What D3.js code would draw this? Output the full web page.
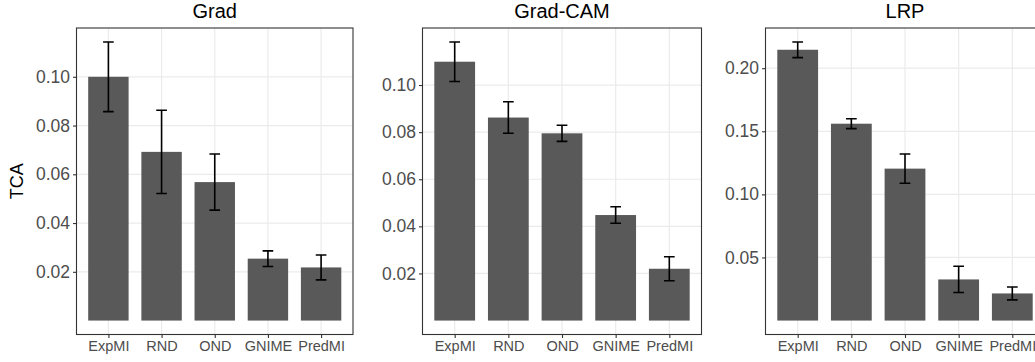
<!DOCTYPE html>
<html>
<head>
<meta charset="utf-8">
<script src="https://cdn.jsdelivr.net/npm/d3@7"></script>
<style>
  html, body { margin: 0; padding: 0; background: #fff; }
  svg { display: block; }
  text { font-family: "Liberation Sans", Arial, Helvetica, sans-serif; }
</style>
</head>
<body>
<svg id="chart" width="1035" height="362"></svg>
<script>
// ---- data ----
const categories = ["ExpMI", "RND", "OND", "GNIME", "PredMI"];
const panelTitles = ["Grad", "Grad-CAM", "LRP"];

const gradMean = [0.1000, 0.0692, 0.0568, 0.0254, 0.0218];
const gradErr  = [0.0143, 0.0171, 0.0115, 0.0032, 0.0051];

const gradcamMean = [0.1099, 0.0862, 0.0795, 0.0448, 0.0220];
const gradcamErr  = [0.0084, 0.0067, 0.0034, 0.0035, 0.0051];

const lrpMean = [0.2146, 0.1560, 0.1204, 0.0326, 0.0215];
const lrpErr  = [0.0062, 0.0039, 0.0116, 0.0104, 0.0051];

const gradTicks = [0.02, 0.04, 0.06, 0.08, 0.10];
const gradcamTicks = [0.02, 0.04, 0.06, 0.08, 0.10];
const lrpTicks = [0.05, 0.10, 0.15, 0.20];

const yLabel = "TCA";

// ---- layout ----
const svg = d3.select("#chart");
const panelTop = 28, panelBottom = 334.5;
const panels = [
  { title: panelTitles[0], mean: gradMean, err: gradErr, ticks: gradTicks, left: 76.5, width: 276.5, fmt: d3.format(".2f") },
  { title: panelTitles[1], mean: gradcamMean, err: gradcamErr, ticks: gradcamTicks, left: 422.5, width: 279, fmt: d3.format(".2f") },
  { title: panelTitles[2], mean: lrpMean, err: lrpErr, ticks: lrpTicks, left: 765.5, width: 279, fmt: d3.format(".2f") }
];

const barColor = "#595959";
const gridColor = "#ebebeb";
const axisColor = "#333333";
const tickTextColor = "#4d4d4d";

panels.forEach((p) => {
  const g = svg.append("g");
  const hi = d3.max(p.mean.map((m, i) => m + p.err[i]));
  const lo = 0;
  const pad = (hi - lo) * 0.05;
  const y = d3.scaleLinear().domain([lo - pad, hi + pad]).range([panelBottom, panelTop]);
  const x = d3.scaleLinear().domain([0.4, categories.length + 0.6]).range([p.left, p.left + p.width]);

  const clipId = "clip-" + p.title.replace(/[^a-zA-Z]/g, "");
  svg.append("clipPath").attr("id", clipId)
    .append("rect").attr("x", p.left).attr("y", panelTop).attr("width", p.width).attr("height", panelBottom - panelTop);

  const inner = g.append("g").attr("clip-path", `url(#${clipId})`);

  inner.append("rect").attr("x", p.left).attr("y", panelTop).attr("width", p.width).attr("height", panelBottom - panelTop).attr("fill", "#fff");

  // major grid
  inner.selectAll(".hgrid").data(p.ticks).enter().append("line")
    .attr("x1", p.left).attr("x2", p.left + p.width)
    .attr("y1", d => y(d)).attr("y2", d => y(d))
    .attr("stroke", gridColor).attr("stroke-width", 1.2);
  inner.selectAll(".vgrid").data(categories).enter().append("line")
    .attr("x1", (d, i) => x(i + 1)).attr("x2", (d, i) => x(i + 1))
    .attr("y1", panelTop).attr("y2", panelBottom)
    .attr("stroke", gridColor).attr("stroke-width", 1.2);

  // bars
  const bw = 0.76;
  inner.selectAll(".bar").data(p.mean).enter().append("rect")
    .attr("x", (d, i) => x(i + 1 - bw / 2))
    .attr("width", x(1 + bw / 2) - x(1 - bw / 2))
    .attr("y", d => y(d))
    .attr("height", d => y(0) - y(d))
    .attr("fill", barColor);

  // error bars
  const cw = 0.1;
  const eb = inner.selectAll(".eb").data(p.mean).enter().append("g");
  eb.append("line")
    .attr("x1", (d, i) => x(i + 1)).attr("x2", (d, i) => x(i + 1))
    .attr("y1", (d, i) => y(d + p.err[i])).attr("y2", (d, i) => y(d - p.err[i]))
    .attr("stroke", "#000").attr("stroke-width", 1.6);
  eb.append("line")
    .attr("x1", (d, i) => x(i + 1 - cw)).attr("x2", (d, i) => x(i + 1 + cw))
    .attr("y1", (d, i) => y(d + p.err[i])).attr("y2", (d, i) => y(d + p.err[i]))
    .attr("stroke", "#000").attr("stroke-width", 1.6);
  eb.append("line")
    .attr("x1", (d, i) => x(i + 1 - cw)).attr("x2", (d, i) => x(i + 1 + cw))
    .attr("y1", (d, i) => y(d - p.err[i])).attr("y2", (d, i) => y(d - p.err[i]))
    .attr("stroke", "#000").attr("stroke-width", 1.6);

  // panel border
  g.append("rect").attr("x", p.left).attr("y", panelTop).attr("width", p.width).attr("height", panelBottom - panelTop)
    .attr("fill", "none").attr("stroke", axisColor).attr("stroke-width", 1.1);

  // y axis
  const yAxis = d3.axisLeft(y).tickValues(p.ticks).tickFormat(p.fmt).tickSize(3.5).tickPadding(3);
  const ya = g.append("g").attr("transform", `translate(${p.left},0)`).call(yAxis);
  ya.select(".domain").remove();
  ya.selectAll(".tick line").attr("stroke", axisColor).attr("stroke-width", 1.1);
  ya.selectAll(".tick text").attr("fill", tickTextColor).attr("font-size", 17.5)
    .attr("font-family", "'Liberation Sans', Arial, sans-serif");

  // x axis
  const xAxis = d3.axisBottom(x).tickValues(categories.map((c, i) => i + 1))
    .tickFormat((d) => categories[d - 1]).tickSize(3.5).tickPadding(3);
  const xa = g.append("g").attr("transform", `translate(0,${panelBottom})`).call(xAxis);
  xa.select(".domain").remove();
  xa.selectAll(".tick line").attr("stroke", axisColor).attr("stroke-width", 1.1);
  xa.selectAll(".tick text").attr("fill", tickTextColor).attr("font-size", 14.5)
    .attr("font-family", "'Liberation Sans', Arial, sans-serif");

  // title
  g.append("text")
    .attr("x", p.left + p.width / 2).attr("y", 18)
    .attr("text-anchor", "middle")
    .attr("font-size", 20).attr("fill", "#000")
    .text(p.title);
});

// y label
svg.append("text")
  .attr("transform", `translate(23,${(panelTop + panelBottom) / 2}) rotate(-90)`)
  .attr("text-anchor", "middle")
  .attr("font-size", 18).attr("fill", "#000")
  .text(yLabel);
</script>
</body>
</html>
